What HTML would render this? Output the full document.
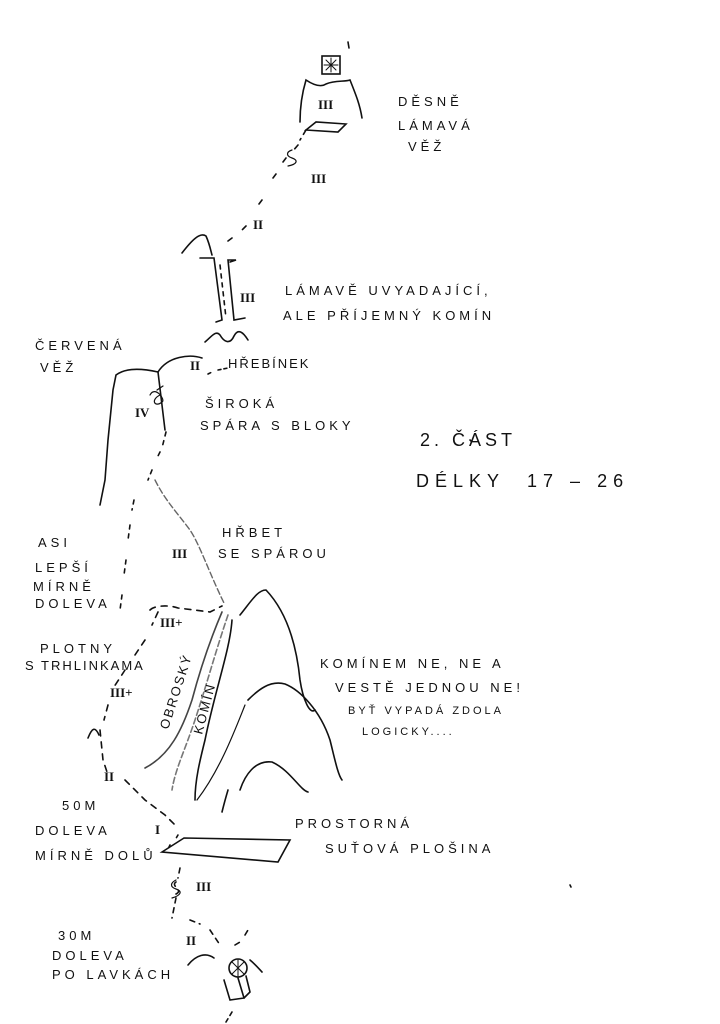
<!DOCTYPE html>
<html><head><meta charset="utf-8"><style>
html,body{margin:0;padding:0;background:#fff}
svg{display:block}
text{font-family:"Liberation Sans",sans-serif;font-size:13px;fill:#111;letter-spacing:4px}
.r{font-family:"Liberation Serif",serif;font-weight:bold;letter-spacing:0}
</style></head><body>
<svg width="720" height="1024" viewBox="0 0 720 1024" fill="none" stroke="#111" stroke-width="1.6" stroke-linecap="round">
<!-- top summit -->
<line x1="348" y1="42" x2="349" y2="48"/>
<rect x="322" y="56" width="18" height="18"/>
<path d="M326 60 L336 70 M336 60 L326 70 M331 58 V72 M324 65 H338" stroke-width="1"/>
<path d="M300 122 C300 105 303 90 306 80 C312 84 320 88 326 84 C335 80 345 82 350 80 C356 95 360 105 362 118"/>
<path d="M306 130 L316 122 L346 124 L338 132 Z"/>
<path d="M306 130 L300 140 M298 145 L292 152 M286 158 L280 166 M276 174 L270 182 M262 200 L256 208 M246 226 L240 232 M232 238 L224 244" stroke-dasharray="5 5"/>
<path d="M292 150 c-6 2 -6 6 0 8 c6 2 6 6 -4 8" stroke-width="1.2"/>
<!-- chimney -->
<path d="M182 253 C192 240 200 232 206 236 C210 245 211 252 212 255"/>
<path d="M200 258 L214 258 L222 320 L216 322"/>
<path d="M230 262 L236 260 L228 260 L234 320 L245 318"/>
<path d="M220 265 L226 318" stroke-dasharray="4 5"/>
<path d="M205 342 C212 336 216 330 220 335 C224 342 230 345 234 336 C238 328 243 332 248 340"/>
<!-- tower -->
<path d="M158 372 C168 356 190 354 202 358 M158 372 C140 368 125 368 116 375 L113 390 L108 440 L105 480 L100 505" />
<path d="M158 372 L165 430" />
<path d="M157 390 L163 386 M150 395 C155 385 166 400 162 402 C155 408 150 400 160 395" stroke-width="1.2"/>
<path d="M166 432 L162 448 M160 452 L156 460 M152 470 L148 480 M134 500 L132 510 M130 525 L128 540 M126 560 L124 575 M122 595 L120 610" stroke-dasharray="4 5"/>
<path d="M155 480 C165 500 175 510 190 530 C200 545 210 575 225 605" stroke="#666" stroke-width="1.4" stroke-dasharray="6 3"/>
<path d="M218 370 L228 368 M208 374 L212 372" stroke-dasharray="3 3"/>
<!-- route mid-left -->
<path d="M150 610 C155 605 170 605 178 608 L210 612 L222 606 M158 612 L152 625 M145 640 L135 655 M125 670 L112 690 M108 705 L104 720 M100 730 L103 760 L108 775 M125 780 L145 800 L165 815 L175 825" stroke-dasharray="6 6"/>
<path d="M88 738 C92 728 95 726 99 735"/>
<!-- gray chimney lines -->
<path d="M222 612 C210 640 200 670 192 700 C182 730 170 755 145 768" stroke="#444"/>
<path d="M228 615 C216 650 205 690 195 720 C185 750 175 770 172 790" stroke="#777" stroke-dasharray="6 3"/>
<!-- big mountain -->
<path d="M240 615 C252 600 258 590 266 590 C285 610 296 640 300 680 C303 700 310 715 315 710"/>
<path d="M232 620 C230 650 215 690 205 740 C200 760 195 780 195 800"/>
<path d="M248 700 C258 690 270 680 285 684 C300 690 320 710 330 740 C335 760 338 775 342 780"/>
<path d="M245 705 C235 730 220 770 197 800" stroke-width="1.2"/>
<path d="M240 790 C245 775 255 760 272 762 C290 770 300 790 308 792"/>
<path d="M228 790 C225 800 223 808 222 812"/>
<!-- slab -->
<path d="M162 852 L184 838 L290 840 L278 862 Z"/>
<path d="M178 835 L175 840 M170 845 L168 849" stroke-dasharray="3 3"/>
<path d="M180 868 L178 878 M176 882 C170 886 184 890 176 894 M176 898 L172 918 M190 920 L200 924 M210 930 L220 945 M235 945 L240 942 M245 935 L248 930" stroke-dasharray="5 5"/>
<path d="M176 880 c-6 3 -6 7 0 9 c6 2 6 6 -4 9" stroke-width="1.2"/>
<path d="M188 965 C196 955 206 952 214 958"/>
<path d="M250 960 C256 965 260 970 262 972"/>
<circle cx="238" cy="968" r="9"/>
<path d="M232 962 L244 974 M244 962 L232 974 M238 960 V976" stroke-width="1"/>
<path d="M224 980 L230 1000 L244 998 L238 978 M244 998 L250 992 L246 976" />
<path d="M232 1012 L226 1022" stroke-dasharray="4 4"/>
<path d="M570 885 L571 887"/><path d="M470 440 L471 441"/>
</svg>
<svg width="720" height="1024" style="position:absolute;left:0;top:0">
<g>
<text class="r" x="318" y="109">III</text>
<text x="398" y="106">DĚSNĚ</text>
<text x="398" y="130">LÁMAVÁ</text>
<text x="408" y="151">VĚŽ</text>
<text class="r" x="311" y="183">III</text>
<text class="r" x="253" y="229">II</text>
<text class="r" x="240" y="302">III</text>
<text x="285" y="295">LÁMAVĚ UVYADAJÍCÍ,</text>
<text x="283" y="320">ALE PŘÍJEMNÝ KOMÍN</text>
<text x="35" y="350">ČERVENÁ</text>
<text x="40" y="372">VĚŽ</text>
<text class="r" x="190" y="370">II</text>
<text x="228" y="368" style="letter-spacing:2px">HŘEBÍNEK</text>
<text class="r" x="135" y="417">IV</text>
<text x="205" y="408">ŠIROKÁ</text>
<text x="200" y="430">SPÁRA S BLOKY</text>
<text x="420" y="446" style="font-size:18px">2. ČÁST</text>
<text x="416" y="487" style="font-size:18px;letter-spacing:6px">DÉLKY&#160; 17 – 26</text>
<text x="222" y="537">HŘBET</text>
<text x="218" y="558">SE SPÁROU</text>
<text class="r" x="172" y="558">III</text>
<text x="38" y="547">ASI</text>
<text x="35" y="572">LEPŠÍ</text>
<text x="33" y="591">MÍRNĚ</text>
<text x="35" y="608">DOLEVA</text>
<text class="r" x="160" y="627">III+</text>
<text x="40" y="653">PLOTNY</text>
<text x="25" y="670" style="letter-spacing:2px">S TRHLINKAMA</text>
<text class="r" x="110" y="697">III+</text>
<text x="0" y="0" transform="translate(168,730) rotate(-72)" style="letter-spacing:2px">OBROSKÝ</text>
<text x="0" y="0" transform="translate(202,735) rotate(-75)" style="letter-spacing:2px">KOMÍN</text>
<text x="320" y="668">KOMÍNEM NE, NE A</text>
<text x="335" y="692">VESTĚ JEDNOU NE!</text>
<text x="348" y="714" style="font-size:11px;letter-spacing:3px">BYŤ VYPADÁ ZDOLA</text>
<text x="362" y="735" style="font-size:11px;letter-spacing:3px">LOGICKY....</text>
<text class="r" x="104" y="781">II</text>
<text x="62" y="810">50M</text>
<text x="35" y="835">DOLEVA</text>
<text x="35" y="860">MÍRNĚ DOLŮ</text>
<text class="r" x="155" y="834">I</text>
<text x="295" y="828">PROSTORNÁ</text>
<text x="325" y="853">SUŤOVÁ PLOŠINA</text>
<text class="r" x="196" y="891">III</text>
<text class="r" x="186" y="945">II</text>
<text x="58" y="940">30M</text>
<text x="52" y="960">DOLEVA</text>
<text x="52" y="979">PO LAVKÁCH</text>
</g>
</svg>
</body></html>
